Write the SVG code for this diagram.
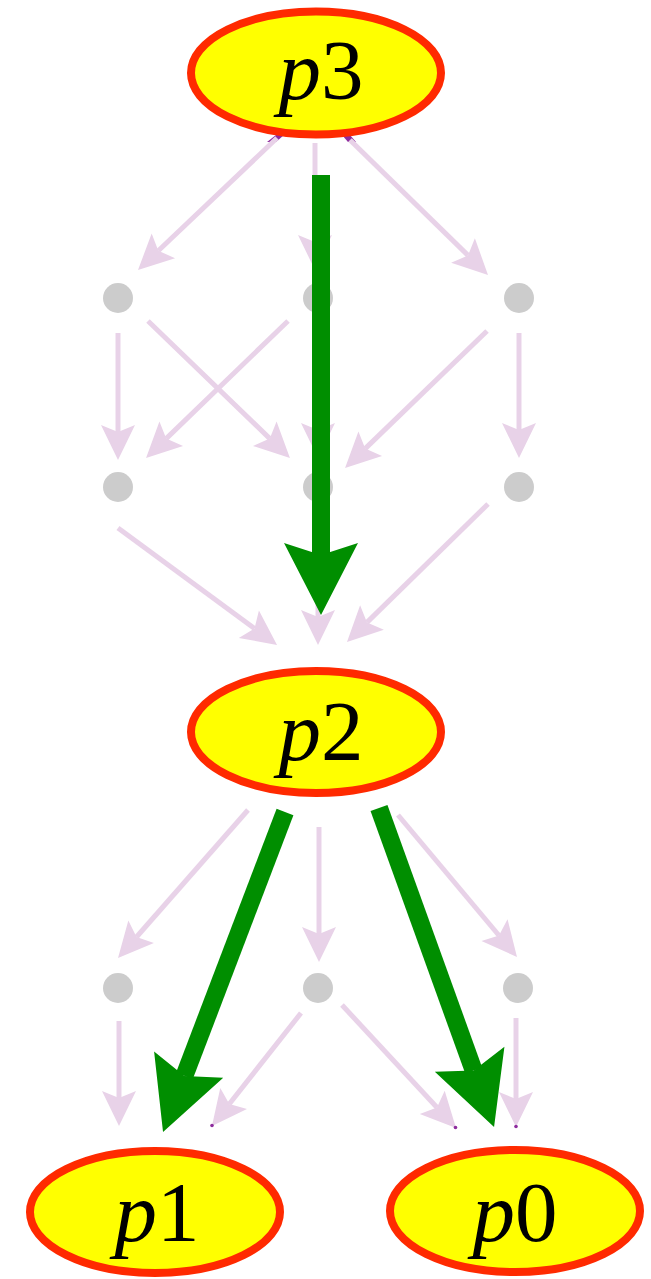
<svg xmlns="http://www.w3.org/2000/svg" width="651" height="1279" viewBox="0 0 651 1279">
<style>
.bg{fill:#ffffff}
.dot{fill:#cccccc}
.pe{stroke:#e8d2e8;stroke-width:5;fill:none;marker-end:url(#ap)}
.ge{stroke:#008e00;stroke-width:18;fill:none;marker-end:url(#ag)}
.dkd{fill:#8e2c9e}
.node ellipse{fill:#ffff00;stroke:#ff2a00;stroke-width:8}
.node text{font-family:"Liberation Serif","Times New Roman",serif;font-size:85px;fill:#000000;text-anchor:middle}
.it{font-style:italic}
</style>
<defs>
<marker id="ap" markerUnits="userSpaceOnUse" orient="auto" refX="7" refY="0" markerWidth="40" markerHeight="40" overflow="visible">
<path d="M0,-17 L35,0 L0,17 L7,0 Z" fill="#e8d2e8"/>
</marker>
<marker id="ag" markerUnits="userSpaceOnUse" orient="auto" refX="12" refY="0" markerWidth="80" markerHeight="80" overflow="visible">
<path d="M0,-37 L72,0 L0,37 L12,0 Z" fill="#008e00"/>
</marker>
</defs>
<rect class="bg" x="0" y="0" width="651" height="1279"/>
<g id="dots">
<circle id="n1a" class="dot" cx="118" cy="298" r="15"/>
<circle id="n1b" class="dot" cx="318" cy="298" r="15"/>
<circle id="n1c" class="dot" cx="519" cy="298" r="15"/>
<circle id="n2a" class="dot" cx="118" cy="487" r="15"/>
<circle id="n2b" class="dot" cx="318" cy="487" r="15"/>
<circle id="n2c" class="dot" cx="519" cy="487" r="15"/>
<circle id="n3a" class="dot" cx="118" cy="988" r="15"/>
<circle id="n3b" class="dot" cx="318" cy="988" r="15"/>
<circle id="n3c" class="dot" cx="518" cy="988" r="15"/>
</g>
<g id="connectors">
<polygon class="dkd" points="267,142 276,135 284,135 276,142"/>
<polygon class="dkd" points="342,135 350,135 356,142 348,142"/>
<line class="pe" x1="277" y1="138" x2="158.3" y2="250.7"/>
<line class="pe" x1="315" y1="143" x2="315" y2="242"/>
<line class="pe" x1="350" y1="140" x2="468" y2="255.4"/>
<line class="pe" x1="118" y1="333" x2="118" y2="432"/>
<line class="pe" x1="148" y1="321" x2="269.8" y2="438.6"/>
<line class="pe" x1="288" y1="321" x2="166.2" y2="438.6"/>
<line class="pe" x1="487" y1="331" x2="365.2" y2="448.6"/>
<line class="pe" x1="519" y1="333" x2="519" y2="430"/>
<line class="pe" x1="318" y1="330" x2="318" y2="430"/>
<line class="pe" x1="118" y1="528" x2="254.5" y2="628.4"/>
<line class="pe" x1="318" y1="520" x2="318" y2="617"/>
<line class="pe" x1="488" y1="504" x2="367" y2="622.4"/>
<line class="pe" x1="248" y1="810" x2="136.5" y2="937"/>
<line class="pe" x1="319" y1="827" x2="319" y2="934"/>
<line class="pe" x1="398" y1="815" x2="499" y2="935.5"/>
<line class="pe" x1="119" y1="1021" x2="119" y2="1098"/>
<line class="pe" x1="301" y1="1013" x2="229.3" y2="1104"/>
<line class="pe" x1="342" y1="1005" x2="437" y2="1107.5"/>
<line class="pe" x1="516" y1="1018" x2="516" y2="1099"/>
<circle class="dkd" cx="212" cy="1125.5" r="1.8"/>
<circle class="dkd" cx="455.5" cy="1127.5" r="1.8"/>
<circle class="dkd" cx="516" cy="1126.5" r="1.8"/>
<line class="ge" x1="321" y1="175" x2="321" y2="555"/>
<line class="ge" x1="285" y1="812" x2="184.4" y2="1075.9"/>
<line class="ge" x1="379" y1="808" x2="473.7" y2="1070.5"/>
</g>
<g id="p3" class="node">
<ellipse cx="316" cy="73" rx="125" ry="61.5"/>
<text x="321" y="99"><tspan class="it">p</tspan>3</text>
</g>
<g id="p2" class="node">
<ellipse cx="316" cy="732" rx="125" ry="61"/>
<text x="321" y="760"><tspan class="it">p</tspan>2</text>
</g>
<g id="p1" class="node">
<ellipse cx="155" cy="1212" rx="125" ry="61"/>
<text x="157" y="1241"><tspan class="it">p</tspan>1</text>
</g>
<g id="p0" class="node">
<ellipse cx="515" cy="1211" rx="125" ry="61"/>
<text x="515" y="1241"><tspan class="it">p</tspan>0</text>
</g>
</svg>
